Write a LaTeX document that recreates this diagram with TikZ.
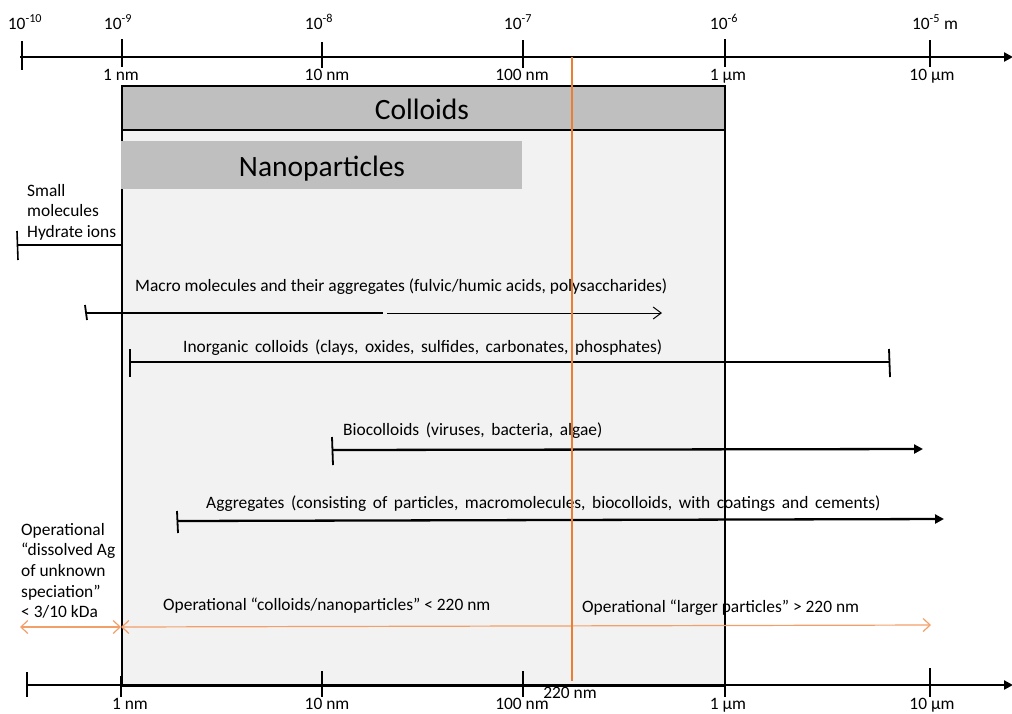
\documentclass[tikz,border=0pt]{standalone}
\usepackage{fontspec}
\setmainfont{Carlito}
\usetikzlibrary{arrows.meta}
\definecolor{regionfill}{HTML}{F2F2F2}
\definecolor{boxfill}{HTML}{BFBFBF}
\definecolor{orline}{HTML}{ED7D31}
\definecolor{orarrow}{HTML}{F2A06A}
\tikzset{
 txt/.style={inner sep=0pt, anchor=base, font=\fontsize{17.4}{20.6}\selectfont},
 txtl/.style={inner sep=0pt, anchor=base west, font=\fontsize{17.4}{20.6}\selectfont},
 widetxt/.style={txtl, execute at begin node={\spaceskip=6.6pt plus 1pt\relax}},
 multi/.style={inner sep=0pt, anchor=north west, align=left, font=\fontsize{17.4}{20.6}\selectfont},
 big/.style={inner sep=0pt, anchor=base, font=\fontsize{29.5}{34}\selectfont},
 axisline/.style={line width=2.6pt, -{Triangle[length=9pt,width=9pt]}},
 tickmark/.style={line width=1.8pt},
 rangeline/.style={line width=2.3pt},
 thinline/.style={line width=1.6pt},
 thinarrow/.style={line width=1pt, -{Straight Barb[length=8pt,width=12pt]}},
 filledarrow/.style={line width=2.3pt, -{Triangle[length=9pt,width=9pt]}},
 oparrow/.style={orarrow, line width=1.2pt, {Straight Barb[length=7pt,width=13pt]}-{Straight Barb[length=7pt,width=13pt]}},
 vline220/.style={orline, line width=2pt},
}
\begin{document}
\begin{tikzpicture}[x=1pt,y=-1pt]
\useasboundingbox (0,0) rectangle (1012,713);

% shaded colloid region and title boxes
\node[draw, line width=1.8pt, fill=regionfill, minimum width=603pt, minimum height=600pt, anchor=north west, inner sep=0pt] (region) at (121,85) {};
\node[draw, line width=1.8pt, fill=boxfill, minimum width=603pt, minimum height=44pt, anchor=north west, inner sep=0pt] (colloidsbox) at (121,85) {};
\node[big] (colloids) at (422,119) {Colloids};
\node[fill=boxfill, minimum width=401pt, minimum height=48pt, anchor=north west, inner sep=0pt] (nanobox) at (121,141) {};
\node[big] (nano) at (322,176) {Nanoparticles};

% top axis
\coordinate (taL) at (20,57);
\coordinate (taR) at (1013,57);
\draw[axisline] (taL) -- (taR);
\foreach \x/\a/\b in {22/41/70, 122/39/67, 322/42/68, 523/40/68, 725/39/67, 930/40/67}
  \draw[tickmark] (\x,\a) -- (\x,\b);
\node[txt] (e10) at (25,29) {10\textsuperscript{-10}};
\node[txt] (e9) at (118,29) {10\textsuperscript{-9}};
\node[txt] (e8) at (319,29) {10\textsuperscript{-8}};
\node[txt] (e7) at (518,29) {10\textsuperscript{-7}};
\node[txt] (e6) at (724,29) {10\textsuperscript{-6}};
\node[txt] (e5) at (935,29) {10\textsuperscript{-5} m};
\node[txt] (t1nm) at (121,80) {1 nm};
\node[txt] (t10nm) at (327,80) {10 nm};
\node[txt] (t100nm) at (522,80) {100 nm};
\node[txt] (t1um) at (728,80) {1 µm};
\node[txt] (t10um) at (932,80) {10 µm};

% small molecules
\node[multi] (small) at (27,184) {Small\\molecules\\Hydrate ions};
\coordinate (smL) at (18,245);
\coordinate (smR) at (121,245);
\draw[thinline] (smL) -- (smR);
\draw[thinline] (17,231) -- (18,260);

% macro molecules
\node[txtl] (macro) at (135,291) {Macro molecules and their aggregates (fulvic/humic acids, polysaccharides)};
\coordinate (maL) at (86,313);
\coordinate (maM) at (383,313);
\coordinate (maT) at (387,313);
\coordinate (maR) at (662,313);
\draw[rangeline] (maL) -- (maM);
\draw[tickmark] (85,305) -- (87,320);
\draw[thinarrow] (maT) -- (maR);

% inorganic colloids
\node[widetxt] (inorg) at (183,352) {Inorganic colloids (clays, oxides, sulfides, carbonates, phosphates)};
\coordinate (inL) at (130,362);
\coordinate (inR) at (889,362);
\draw[rangeline] (inL) -- (inR);
\draw[tickmark] (130,349) -- (130,377);
\draw[tickmark] (889,349) -- (890,377);

% biocolloids
\node[widetxt] (bio) at (343,435) {Biocolloids (viruses, bacteria, algae)};
\coordinate (biL) at (332,450);
\coordinate (biR) at (923,449);
\draw[filledarrow] (biL) -- (biR);
\draw[tickmark] (332,437) -- (333,465);

% aggregates
\node[widetxt] (aggr) at (206,508) {Aggregates (consisting of particles, macromolecules, biocolloids, with coatings and cements)};
\coordinate (agL) at (177,521);
\coordinate (agR) at (944,519);
\draw[filledarrow] (agL) -- (agR);
\draw[tickmark] (177,511) -- (178,533);

% operational fractions
\node[multi] (dissolved) at (21,523) {Operational\\“dissolved Ag\\of unknown\\speciation”\\< 3/10 kDa};
\node[txtl] (opcoll) at (163,610) {Operational “colloids/nanoparticles” < 220 nm};
\node[txtl] (oplarge) at (582,612) {Operational “larger particles” > 220 nm};
\coordinate (opL) at (20,627);
\coordinate (opM) at (121,627);
\coordinate (opR) at (931,625);
\draw[oparrow] (opL) -- (opM);
\draw[oparrow] (opM) -- (opR);

% 220 nm cut-off
\coordinate (c220top) at (572,57);
\coordinate (c220bot) at (572,681);
\draw[vline220] (c220top) -- (c220bot);

% bottom axis
\coordinate (baL) at (27,685);
\coordinate (baR) at (1013,685);
\draw[axisline] (baL) -- (baR);
\foreach \x/\a in {27/672, 121/676, 322/671, 523/671, 725/667, 930/668}
  \draw[tickmark] (\x,\a) -- (\x,697);
\node[txt] (b1nm) at (130,709) {1 nm};
\node[txt] (b10nm) at (327,709) {10 nm};
\node[txt] (b100nm) at (522,709) {100 nm};
\node[txt] (b220nm) at (570,698) {220 nm};
\node[txt] (b1um) at (728,709) {1 µm};
\node[txt] (b10um) at (932,709) {10 µm};
\end{tikzpicture}
\end{document}
